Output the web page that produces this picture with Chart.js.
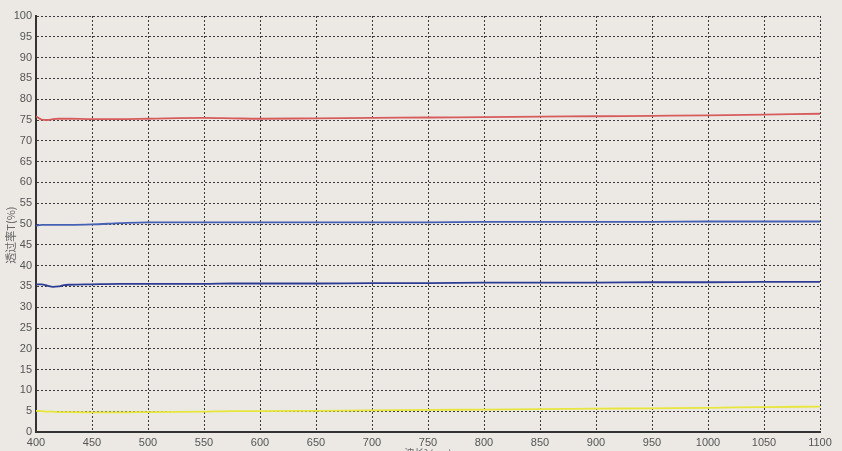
<!DOCTYPE html>
<html>
<head>
<meta charset="utf-8">
<script src="https://cdn.jsdelivr.net/npm/chart.js@4.4.1/dist/chart.umd.min.js"></script>
<style>
  html, body { margin: 0; padding: 0; background: #ece9e5; overflow: hidden; }
  #wrap { width: 842px; height: 466px; }
</style>
</head>
<body>
<div id="wrap"><canvas id="my-chart"></canvas></div>
<script>
'use strict';

// ******* DATA *********
let wavelengths = [400, 405, 410, 415, 420, 425, 430, 450, 475, 500, 550, 575, 600, 650, 700, 750, 800, 850, 900, 950, 1000, 1050, 1100];

let redValues = [75.9, 75.1, 75.0, 75.2, 75.3, 75.3, 75.3, 75.2, 75.2, 75.3, 75.5, 75.4, 75.3, 75.4, 75.5, 75.6, 75.7, 75.8, 75.9, 76.0, 76.1, 76.3, 76.5];
let blueUpperValues = [49.6, 49.8, 49.8, 49.8, 49.8, 49.8, 49.8, 49.9, 50.2, 50.4, 50.4, 50.4, 50.4, 50.4, 50.4, 50.4, 50.5, 50.5, 50.5, 50.5, 50.6, 50.6, 50.6];
let blueLowerValues = [35.5, 35.5, 35.2, 34.9, 35.0, 35.3, 35.4, 35.5, 35.6, 35.6, 35.6, 35.7, 35.7, 35.7, 35.8, 35.8, 35.9, 35.9, 35.9, 36.0, 36.0, 36.1, 36.1];
let yellowValues = [5.1, 5.0, 4.9, 4.9, 4.8, 4.8, 4.8, 4.7, 4.7, 4.8, 4.9, 5.0, 5.0, 5.1, 5.2, 5.3, 5.4, 5.5, 5.6, 5.7, 5.8, 6.0, 6.1];

let xTitle = '波长λ(nm)';
let yTitle = '透过率T(%)';

// ******* HELPERS *********
function toPoints(values) {
  let points = [];
  for (let i = 0; i < wavelengths.length; i++) {
    points.push({ x: wavelengths[i], y: values[i] });
  }
  return points;
}

function lineSet(values, color) {
  return {
    data: toPoints(values),
    borderColor: color,
    borderWidth: 1.8,
    pointRadius: 0,
    fill: false,
    cubicInterpolationMode: 'monotone'
  };
}

let ctx = document.getElementById('my-chart');

let tickFont = { family: 'Liberation Sans', size: 11 };
let titleFont = { family: 'Noto Sans CJK SC', size: 10 };

// grid is dotted, axis line on left/bottom is solid (border.dash only hits grid lines in v4)
let gridStyle = { color: '#3a3a3a', lineWidth: 1, drawTicks: false };
let borderStyle = { display: true, color: '#333', width: 2, dash: [2, 2] };

let chartObj = {
  type: 'line',
  data: {
    datasets: [
      lineSet(redValues, '#d65c5c'),
      lineSet(blueUpperValues, '#4660b4'),
      lineSet(blueLowerValues, '#2e3d94'),
      lineSet(yellowValues, '#e6e63c')
    ]
  },
  options: {
    responsive: true,
    maintainAspectRatio: false,
    animation: false,
    layout: { padding: { top: 16, right: 22, left: 0, bottom: 0 } },
    plugins: {
      legend: { display: false },
      tooltip: { enabled: false }
    },
    scales: {
      x: {
        type: 'linear',
        min: 400,
        max: 1100,
        ticks: {
          stepSize: 50, color: '#555', font: tickFont, padding: 4, maxRotation: 0,
          callback: (v) => String(v)
        },
        grid: gridStyle,
        border: borderStyle,
        title: { display: true, text: xTitle, color: '#666', font: titleFont, padding: { top: 0, bottom: 7 } },
        afterFit: (scale) => { scale.height = 34; }
      },
      y: {
        min: 0,
        max: 100,
        ticks: { stepSize: 5, color: '#555', font: tickFont, padding: 4 },
        grid: gridStyle,
        border: borderStyle,
        // trailing spaces push the rotated title a bit lower, like the original
        title: { display: true, text: yTitle + '         ', color: '#666', font: { family: 'Noto Sans CJK SC', size: 11 }, padding: { top: 4, bottom: 0 } },
        afterFit: (scale) => { scale.width = 36; }
      }
    }
  }
};

new Chart(ctx, chartObj);
</script>
</body>
</html>
